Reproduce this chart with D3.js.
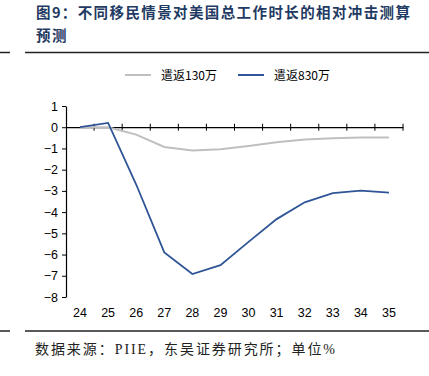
<!DOCTYPE html>
<html>
<head>
<meta charset="utf-8">
<script src="https://cdn.jsdelivr.net/npm/d3@7"></script>
<style>
body { margin: 0; background: #fff; }
svg text { font-family: "Liberation Sans", Arial, sans-serif; }
.title { font-family: "Noto Sans CJK SC", sans-serif; font-weight: bold; fill: #1f3a63; }
.cn { font-family: "Noto Sans CJK SC", sans-serif; }
</style>
</head>
<body>
<div class="chart"></div>
<script>
// data
const years = ["24", "25", "26", "27", "28", "29", "30", "31", "32", "33", "34", "35"];
const dep130 = [0, 0, -0.35, -0.93, -1.1, -1.04, -0.88, -0.71, -0.58, -0.52, -0.49, -0.49];
const dep830 = [0, 0.2, -2.7, -5.9, -6.92, -6.5, -5.4, -4.33, -3.54, -3.11, -2.99, -3.08];
const yTicks = [1, 0, -1, -2, -3, -4, -5, -6, -7, -8];
const seriesNames = ["遣返130万", "遣返830万"];
const seriesColors = ["#bfbfbf", "#2f5597"];

const W = 429, H = 376;
const plot = {left: 66, right: 403, top: 106, bottom: 297};

var svg = d3.select(".chart")
    .append("svg")
    .attr("width", W)
    .attr("height", H);

// title
svg.append("text").attr("class", "title")
    .attr("x", 36).attr("y", 18)
    .style("font-size", "14.5px")
    .attr("textLength", 374)
    .attr("lengthAdjust", "spacing")
    .text("图9：不同移民情景对美国总工作时长的相对冲击测算");
svg.append("text").attr("class", "title")
    .attr("x", 36).attr("y", 41)
    .style("font-size", "14.5px")
    .style("letter-spacing", "1.5px")
    .text("预测");

// rules
[52.5, 331].forEach(function(yy) {
    svg.append("line").attr("x1", 25).attr("x2", W).attr("y1", yy).attr("y2", yy)
        .attr("stroke", "#222").attr("stroke-width", 1.5);
    svg.append("line").attr("x1", 0).attr("x2", 10).attr("y1", yy).attr("y2", yy)
        .attr("stroke", "#222").attr("stroke-width", 1.5);
});

// source
var src = svg.append("text").attr("class", "cn")
    .attr("x", 35).attr("y", 354)
    .style("font-size", "14px")
    .attr("fill", "#222")
    .attr("textLength", 300)
    .attr("lengthAdjust", "spacing");
src.append("tspan").text("数据来源：");
src.append("tspan").style("font-family", "'Liberation Serif', serif").text("PIIE");
src.append("tspan").text("，东吴证券研究所；单位");
src.append("tspan").style("font-family", "'Liberation Serif', serif").text("%");

var x = d3.scaleBand()
    .domain(years)
    .range([plot.left, plot.right]);

var y = d3.scaleLinear()
    .domain([1, -8])
    .range([plot.top, plot.bottom]);

// y axis
var yAxis = svg.append("g")
    .attr("transform", "translate(" + plot.left + ",0)")
    .call(d3.axisLeft(y).tickValues(yTicks).tickFormat(d3.format("d")).tickSize(4).tickSizeOuter(0));
yAxis.select(".domain").attr("stroke", "#000").attr("stroke-width", 1.2);
yAxis.selectAll(".tick line").attr("stroke", "#000");
yAxis.selectAll("text").style("font-size", "12.5px").attr("fill", "#000").attr("x", -8);

// x axis at zero
var xAxis = svg.append("g")
    .attr("transform", "translate(0," + y(0) + ")")
    .call(d3.axisBottom(x).tickSize(0).tickSizeOuter(0).tickFormat(""));
xAxis.select(".domain").attr("stroke", "#000").attr("stroke-width", 1.2);
// ticks between categories
var bounds = years.map(function(d) { return x(d) + x.bandwidth(); });
xAxis.selectAll(".sep")
    .data(bounds)
    .enter().append("line")
    .attr("x1", function(d) { return d; }).attr("x2", function(d) { return d; })
    .attr("y1", -3.5).attr("y2", 3.5)
    .attr("stroke", "#000");

// x labels at bottom
svg.append("g")
    .selectAll("text")
    .data(years)
    .enter().append("text")
    .attr("x", function(d) { return x(d) + x.bandwidth() / 2; })
    .attr("y", 317)
    .attr("text-anchor", "middle")
    .style("font-size", "12.5px")
    .text(function(d) { return d; });

// lines
var line = d3.line()
    .x(function(d, i) { return x(years[i]) + x.bandwidth() / 2; })
    .y(function(d) { return y(d); });

[dep130, dep830].forEach(function(s, i) {
    svg.append("path")
        .datum(s)
        .attr("d", line)
        .attr("fill", "none")
        .attr("stroke", seriesColors[i])
        .attr("stroke-width", i == 0 ? 2 : 1.8);
});

// legend
var legX = [125, 238];
seriesNames.forEach(function(n, i) {
    svg.append("line")
        .attr("x1", legX[i]).attr("x2", legX[i] + 26)
        .attr("y1", 75).attr("y2", 75)
        .attr("stroke", seriesColors[i]).attr("stroke-width", 2);
    svg.append("text").attr("class", "cn")
        .attr("x", legX[i] + 36).attr("y", 79.5)
        .style("font-size", "12px")
        .text(n);
});
</script>
</body>
</html>
